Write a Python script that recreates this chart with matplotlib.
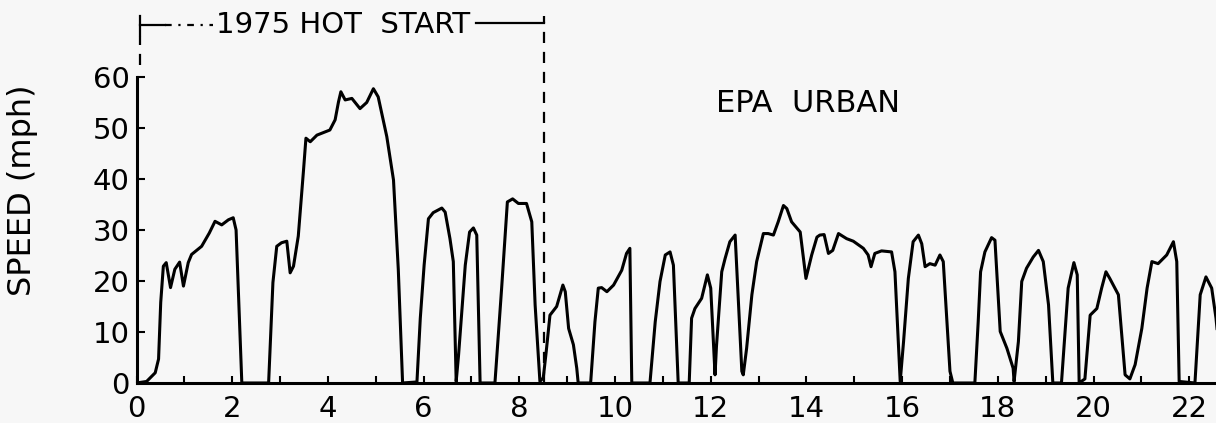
import matplotlib.pyplot as plt
import matplotlib as mpl

# EPA urban driving schedule, first ~22.5 minutes
time_min = [0, 0.21, 0.39, 0.46, 0.505, 0.56, 0.62, 0.71, 0.80, 0.90, 0.98, 1.08, 1.15, 1.36, 1.52, 1.64, 1.78, 1.92, 2.02, 2.08, 2.2,
	2.76, 2.85, 2.93, 3.03, 3.14, 3.21, 3.28, 3.38, 3.49, 3.54, 3.63, 3.77, 4.04, 4.15, 4.22, 4.27, 4.36, 4.50, 4.67, 4.81, 4.95, 5.05, 5.23, 5.37, 5.47, 5.56,
	5.86, 5.93, 6.01, 6.1, 6.2, 6.38, 6.45, 6.55, 6.62, 6.68, 6.73, 6.87, 6.96, 7.04, 7.11, 7.18,
	7.49, 7.63, 7.75, 7.86, 7.98, 8.15, 8.26, 8.33, 8.43,
	8.5, 8.56, 8.64, 8.78, 8.91, 8.96, 9.03, 9.13, 9.2, 9.23,
	9.49, 9.58, 9.65, 9.72, 9.83, 9.97, 10.14, 10.24, 10.31, 10.35,
	10.73, 10.84, 10.94, 11.05, 11.15, 11.22, 11.32,
	11.55, 11.6, 11.67, 11.81, 11.93, 12.0, 12.09, 12.12, 12.23, 12.3, 12.4, 12.51, 12.65, 12.68,
	12.75, 12.86, 12.96, 13.1, 13.2, 13.31, 13.41, 13.52, 13.59, 13.69, 13.87, 13.99, 14.11, 14.22, 14.28, 14.37, 14.46, 14.55, 14.67, 14.84, 14.98, 15.19, 15.29, 15.35, 15.43, 15.57, 15.78, 15.85, 15.96,
	16.03, 16.13, 16.23, 16.34, 16.41, 16.48, 16.58, 16.69, 16.79, 16.86, 17.0, 17.06,
	17.52, 17.59, 17.64, 17.73, 17.87, 17.94, 18.05, 18.19, 18.32, 18.34, 18.43, 18.5, 18.6, 18.74, 18.85, 18.95, 19.06, 19.15,
	19.33, 19.47, 19.59, 19.66, 19.7,
	19.82, 19.93, 20.07, 20.17, 20.26, 20.34, 20.52, 20.66, 20.76, 20.87, 21.01, 21.12, 21.22, 21.35, 21.53, 21.67, 21.74, 21.79,
	22.12, 22.23, 22.35, 22.47, 22.56, 22.65]
speed_mph = [0, 0.3, 2, 4.7, 15.8, 22.9, 23.6, 18.7, 22.3, 23.7, 19, 23.6, 25.2, 26.8, 29.4, 31.7, 31, 32, 32.4, 30, 0,
	0, 19.7, 26.8, 27.5, 27.8, 21.6, 22.9, 28.8, 41.8, 48, 47.3, 48.6, 49.6, 51.6, 55.1, 57.1, 55.5, 55.8, 53.8, 55, 57.7, 56.1, 48.3, 39.8, 22.3, 0,
	0.2, 12.7, 23.1, 32.2, 33.4, 34.3, 33.5, 28.3, 23.8, 0.3, 5.5, 23.1, 29.6, 30.4, 29, 0,
	0, 18.6, 35.5, 36.1, 35.2, 35.2, 31.6, 15.3, 0.3,
	1, 6, 13.3, 15, 19.2, 17.9, 10.7, 7.5, 2.9, 0,
	0, 12, 18.6, 18.7, 17.9, 19.2, 22.1, 25.4, 26.4, 0,
	0, 12, 19.9, 25.1, 25.7, 23.1, 0,
	0, 12.7, 14.6, 16.6, 21.2, 18.6, 1.6, 7.2, 21.8, 24.4, 27.7, 29, 2.3, 1.6,
	6.8, 17.3, 23.8, 29.3, 29.3, 29, 31.6, 34.8, 34.2, 31.6, 29.6, 20.5, 25.1, 28.6, 29, 29.1, 25.4, 26, 29.3, 28.3, 27.8, 26.4, 25.1, 22.8, 25.4, 25.9, 25.7, 21.8, 0.3,
	8.1, 20.5, 27.7, 29, 27.3, 22.8, 23.4, 23.1, 25.1, 23.8, 2.3, 0,
	0, 12, 21.8, 25.7, 28.5, 28, 10.1, 6.8, 2.9, 0.3, 8.1, 19.9, 22.5, 24.7, 26, 23.8, 15.3, 0,
	0, 18.6, 23.6, 21.2, 0,
	0.8, 13.3, 14.6, 18.6, 21.8, 20.5, 17.3, 1.6, 0.8, 3.6, 10.7, 18.6, 23.8, 23.4, 25.1, 27.7, 23.8, 0.3,
	0, 17.3, 20.8, 18.6, 12.7, 4]

x_labels = [0, 2, 4, 6, 8, 10, 12, 14, 16, 18, 20, 22]
y_labels = [0, 10, 20, 30, 40, 50, 60]
hot_start_end = 8.52   # end of the 1975 hot start portion (min)

mpl.rcParams['font.family'] = 'DejaVu Sans'
bg = '#f7f7f7'

fig = plt.figure(figsize=(12.16, 4.23), dpi=100, facecolor=bg)
ax = fig.add_axes([0.1123, 0.0946, 0.8877, 0.7234], facecolor=bg)

ax.plot(time_min, speed_mph, color='black', lw=2.2, solid_joinstyle='round')

ax.set_xlim(0, 22.56)
ax.set_ylim(0, 60)
for s in ['top', 'right']:
	ax.spines[s].set_visible(False)
for s in ['left', 'bottom']:
	ax.spines[s].set_linewidth(2.2)

ax.set_xticks(x_labels)
ax.set_xticklabels([str(v) for v in x_labels])
ax.set_xticks(range(1, 23, 2), minor=True)
ax.set_yticks(y_labels)
ax.set_yticklabels([str(v) for v in y_labels])
ax.tick_params(axis='both', which='both', direction='in', width=1.5, labelsize=21)
ax.tick_params(axis='x', which='both', length=5, pad=9)
ax.tick_params(axis='y', length=6, pad=5)

fig.text(23 / 1216, 1 - 190 / 423, 'SPEED (mph)', rotation=90, ha='center', va='center', fontsize=23)

# hot start bracket above the plot
ax.plot([hot_start_end, hot_start_end], [0, 72], color='black', lw=1.6, ls=(0, (5, 4)), clip_on=False)
ax.plot([0.07, 0.07], [62.3, 68], color='black', lw=1.6, ls=(0, (5, 4)), clip_on=False)
ax.plot([0.07, 0.07], [68.3, 72], color='black', lw=1.6, clip_on=False)
ax.plot([0.07, 0.6], [70.2, 70.2], color='black', lw=1.6, clip_on=False)
ax.plot([0.6, 1.6], [70.2, 70.2], color='black', lw=1.6, ls=(0, (3, 3, 1, 3)), clip_on=False)
ax.plot([7.1, hot_start_end], [70.6, 70.6], color='black', lw=1.6, clip_on=False)
ax.text(1.66, 70.2, '1975 HOT  START', ha='left', va='center', fontsize=21, clip_on=False)

ax.text(12.1, 54.8, 'EPA  URBAN', ha='left', va='center', fontsize=22)

plt.savefig('out.png', dpi=100, facecolor=bg)
